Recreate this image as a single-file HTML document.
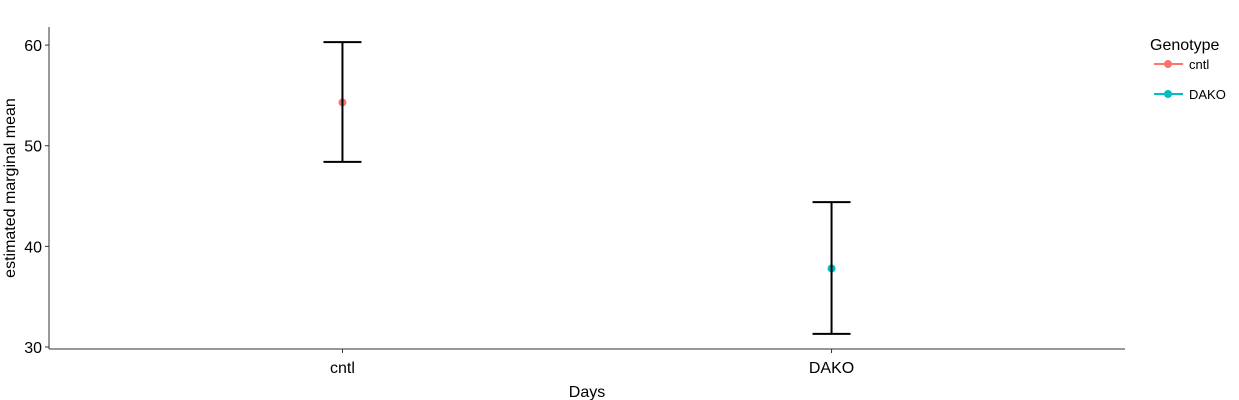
<!DOCTYPE html>
<html><head><meta charset="utf-8"><style>
body{margin:0;background:#fff;}
svg{display:block;font-family:"Liberation Sans",sans-serif;}
</style></head><body>
<svg id="chart" width="1239" height="400"></svg>
<script>
const categories = ["cntl","DAKO"];
const means = [54.3, 37.8];
const upper = [60.3, 44.4];
const lower = [48.4, 31.3];
const colors = ["#F8766D","#00BFC4"];
const yTicks = [30,40,50,60];

const NS="http://www.w3.org/2000/svg";
const svg=document.getElementById('chart');
const L=49,R=1125,T=27,B=349;
const yMin=29.8,yMax=61.8;
function y(v){return B-(v-yMin)/(yMax-yMin)*(B-T);}
function x(i){const u=(R-L)/(categories.length-1+1.2);return L+(i+0.6)*u;}
function mk(tag,attrs,parent){const e=document.createElementNS(NS,tag);for(const k in attrs)e.setAttribute(k,attrs[k]);(parent||svg).appendChild(e);return e;}

let a=mk('line',{x1:L,y1:T,x2:L,y2:B,stroke:'#333','stroke-width':1});


a=mk('line',{x1:L,y1:B,x2:R,y2:B,stroke:'#333','stroke-width':1});



yTicks.forEach(t=>{
  const tk=mk('line',{x1:L-4,y1:y(t),x2:L,y2:y(t),stroke:'#333'});
  
  
  const tx=mk('text',{x:L-7,y:y(t)+6,'text-anchor':'end','font-size':16,fill:'#000'});
  tx.textContent=t;
  
  
});

categories.forEach((c,i)=>{
  const cx=x(i);
  const tk=mk('line',{x1:cx,y1:B,x2:cx,y2:B+4,stroke:'#333'});
  
  
  const tx=mk('text',{x:cx,y:373,'text-anchor':'middle','font-size':16,fill:'#000'});
  tx.textContent=c;
  
  
  const p=mk('circle',{cx:cx,cy:y(means[i]),r:4,fill:colors[i]});
  
  
  const g=mk('g',{});
  
  
  mk('line',{x1:cx,y1:y(upper[i]),x2:cx,y2:y(lower[i]),stroke:'#000','stroke-width':2},g);
  mk('line',{x1:cx-19,y1:y(upper[i]),x2:cx+19,y2:y(upper[i]),stroke:'#000','stroke-width':2},g);
  mk('line',{x1:cx-19,y1:y(lower[i]),x2:cx+19,y2:y(lower[i]),stroke:'#000','stroke-width':2},g);
});

let t=mk('text',{x:587,y:397,'text-anchor':'middle','font-size':16});
t.textContent='Days';


t=mk('text',{x:0,y:0,'text-anchor':'middle','font-size':16,transform:'translate(15,188) rotate(-90)'});
t.textContent='estimated marginal mean';



t=mk('text',{x:1150,y:50,'font-size':16});
t.textContent='Genotype';


categories.forEach((c,i)=>{
  const ly=64+i*30;
  const g=mk('g',{});
  
  
  mk('line',{x1:1154,y1:ly,x2:1183,y2:ly,stroke:colors[i],'stroke-width':2},g);
  mk('circle',{cx:1168,cy:ly,r:4,fill:colors[i]},g);
  const lt=mk('text',{x:1189,y:ly+5,'font-size':13},g);
  lt.textContent=c;
});
</script>
</body></html>
